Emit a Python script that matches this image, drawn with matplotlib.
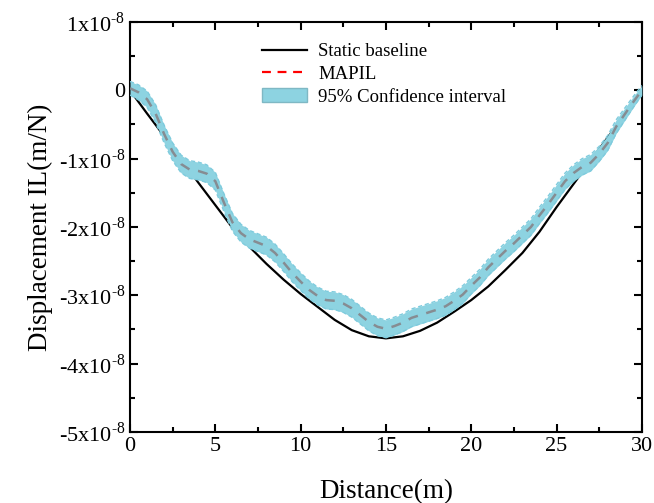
import matplotlib
matplotlib.use('Agg')
import matplotlib.pyplot as plt
from matplotlib.ticker import FuncFormatter, MultipleLocator
from matplotlib.patches import Patch
from matplotlib.lines import Line2D

plt.rcParams['font.family'] = ['Liberation Serif', 'DejaVu Serif']
plt.rcParams['mathtext.fontset'] = 'custom'
plt.rcParams['mathtext.rm'] = 'Liberation Serif'

# displacement values in units of 1e-8 m/N
distance = [0, 1, 2, 3, 4, 5, 6, 7, 8, 9, 10, 11, 12, 13, 14, 15,
            16, 17, 18, 19, 20, 21, 22, 23, 24, 25, 26, 27, 28, 29, 30]
baseline = [0.00, -0.34, -0.67, -1.01, -1.35, -1.68, -2.01, -2.29, -2.54, -2.77,
            -2.98, -3.17, -3.36, -3.51, -3.60, -3.63, -3.60, -3.52, -3.40, -3.24,
            -3.07, -2.87, -2.63, -2.38, -2.07, -1.71, -1.37, -1.03, -0.69, -0.35, 0.00]

distance_fine = [0.0, 0.5, 1.0, 1.5, 2.0, 2.5, 3.0, 3.5, 4.0, 4.5, 5.0, 5.5, 6.0, 6.5, 7.0, 7.5,
                 8.0, 8.5, 9.0, 9.5, 10.0, 10.5, 11.0, 11.5, 12.0, 12.5, 13.0, 13.5, 14.0, 14.5,
                 15.0, 15.5, 16.0, 16.5, 17.0, 17.5, 18.0, 18.5, 19.0, 19.5, 20.0, 20.5, 21.0,
                 21.5, 22.0, 22.5, 23.0, 23.5, 24.0, 24.5, 25.0, 25.5, 26.0, 26.5, 27.0, 27.5,
                 28.0, 28.5, 29.0, 29.5, 30.0]
mapil = [0.03, -0.03, -0.13, -0.34, -0.64, -0.90, -1.08, -1.16, -1.18, -1.22, -1.33, -1.64,
         -1.93, -2.09, -2.18, -2.23, -2.28, -2.38, -2.52, -2.67, -2.80, -2.92, -3.01, -3.07,
         -3.08, -3.12, -3.19, -3.29, -3.39, -3.46, -3.49, -3.45, -3.40, -3.33, -3.29, -3.25,
         -3.21, -3.16, -3.08, -2.99, -2.86, -2.74, -2.59, -2.47, -2.35, -2.24, -2.12, -2.00,
         -1.83, -1.67, -1.50, -1.33, -1.21, -1.12, -1.06, -0.93, -0.77, -0.53, -0.35, -0.17, 0.00]
ci_half = [0.10, 0.11, 0.12, 0.13, 0.13, 0.13, 0.13, 0.13, 0.13, 0.13, 0.13, 0.13,
           0.13, 0.13, 0.13, 0.13, 0.13, 0.13, 0.13, 0.13, 0.13, 0.13, 0.13, 0.13,
           0.13, 0.13, 0.13, 0.13, 0.13, 0.13, 0.13, 0.13, 0.13, 0.13, 0.13, 0.13,
           0.13, 0.13, 0.13, 0.13, 0.12, 0.12, 0.12, 0.12, 0.12, 0.12, 0.12, 0.12,
           0.12, 0.12, 0.12, 0.12, 0.12, 0.12, 0.12, 0.11, 0.11, 0.10, 0.09, 0.08, 0.07]

lower = [m - h for m, h in zip(mapil, ci_half)]
upper = [m + h for m, h in zip(mapil, ci_half)]

band_color = '#8dd3e1'

fig = plt.figure(figsize=(6.54, 5.03), dpi=100)
ax = fig.add_axes([0.1988, 0.1412, 0.7826, 0.8151])

ax.plot(distance, baseline, color='k', lw=1.6, zorder=2)
ax.fill_between(distance_fine, lower, upper, color=band_color, lw=0, zorder=3)
ax.plot(distance_fine, lower, color='#7ecbdd', lw=1.0, dashes=(3, 2), zorder=3)
ax.plot(distance_fine, upper, color='#7ecbdd', lw=1.0, dashes=(3, 2), zorder=3)
ax.plot(distance_fine, mapil, color='#868c92', lw=1.8, dashes=(4, 3.5), zorder=4)

ax.set_xlim(0, 30)
ax.set_ylim(-5, 1)
ax.xaxis.set_major_locator(MultipleLocator(5))
ax.xaxis.set_minor_locator(MultipleLocator(2.5))
ax.yaxis.set_major_locator(MultipleLocator(1))
ax.yaxis.set_minor_locator(MultipleLocator(0.5))


def ylab(v, pos):
    n = int(round(v))
    if n == 0:
        return '0'
    return '%sx10$^{\\text{-}8}$' % ('-' + str(-n) if n < 0 else str(n))


ax.yaxis.set_major_formatter(FuncFormatter(ylab))
ax.tick_params(which='both', direction='in', top=True, right=True, width=1.5, labelsize=16)
ax.tick_params(which='major', length=6)
ax.tick_params(which='minor', length=3.5)
for s in ax.spines.values():
    s.set_linewidth(1.5)

ax.set_xlabel('Distance(m)', fontsize=19.5, labelpad=17)
ax.set_ylabel('Displacement IL(m/N)', fontsize=19.5, labelpad=4)

handles = [Line2D([], [], color='k', lw=1.6),
           Line2D([], [], color='red', lw=1.6, linestyle='--', dashes=(4, 3)),
           Patch(facecolor=band_color, edgecolor='#7fb8c4')]
labels = ['Static baseline', 'MAPIL', '95% Confidence interval']
ax.legend(handles, labels, loc='upper left', bbox_to_anchor=(0.225, 0.99), frameon=False,
          fontsize=13.5, handlelength=2.4, handletextpad=0.6, labelspacing=0.3)

fig.savefig('out.png', dpi=100)
